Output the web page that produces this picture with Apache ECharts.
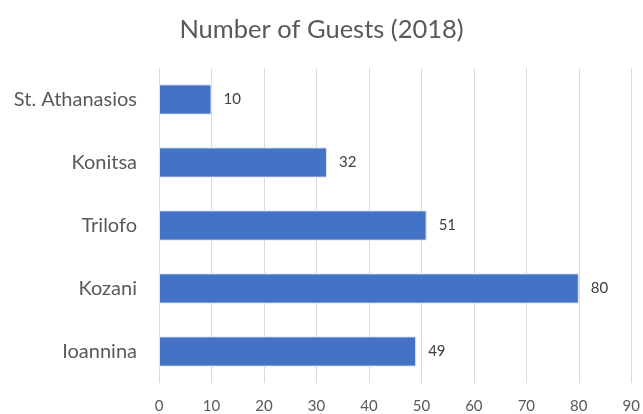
<!DOCTYPE html>
<html>
<head>
<meta charset="utf-8">
<script src="https://cdn.jsdelivr.net/npm/echarts@6/dist/echarts.min.js"></script>
<style>
html,body{margin:0;padding:0;background:#fff;}
#c{width:643px;height:414px;}
</style>
</head>
<body>
<div id="c"></div>
<script>
const categories = ["Ioannina", "Kozani", "Trilofo", "Konitsa", "St. Athanasios"];
const guests = [49, 80, 51, 32, 10];
const tickMin = 0, tickMax = 90, tickStep = 10;

const chart = echarts.init(document.getElementById('c'), null, {renderer: 'canvas'});
const font = "Lato, 'Open Sans', sans-serif";
chart.setOption({
  animation: false,
  title: {
    text: "Number of Guests (2018)",
    left: 'center',
    top: 12,
    textStyle: {fontFamily: font, fontSize: 25.5, fontWeight: 'normal', color: '#595959'}
  },
  grid: {left: 159, right: 7, top: 68, bottom: 30, containLabel: false},
  xAxis: {
    type: 'value',
    min: tickMin, max: tickMax, interval: tickStep,
    axisLine: {show: false},
    axisTick: {show: false},
    splitLine: {show: true, lineStyle: {color: '#d9d9d9', width: 1}},
    axisLabel: {fontFamily: font, fontSize: 15, color: '#595959', margin: 16}
  },
  yAxis: {
    type: 'category',
    data: categories,
    axisLine: {show: false},
    axisTick: {show: false},
    axisLabel: {fontFamily: font, fontSize: 20, color: '#595959', margin: 22}
  },
  series: [{
    type: 'bar',
    data: guests,
    barWidth: '48%',
    itemStyle: {color: '#4472C4', borderColor: '#dfe6f3', borderWidth: 1},
    label: {show: true, position: 'right', distance: 12, fontFamily: font, fontSize: 15, color: '#404040'}
  }]
});
</script>
</body>
</html>
